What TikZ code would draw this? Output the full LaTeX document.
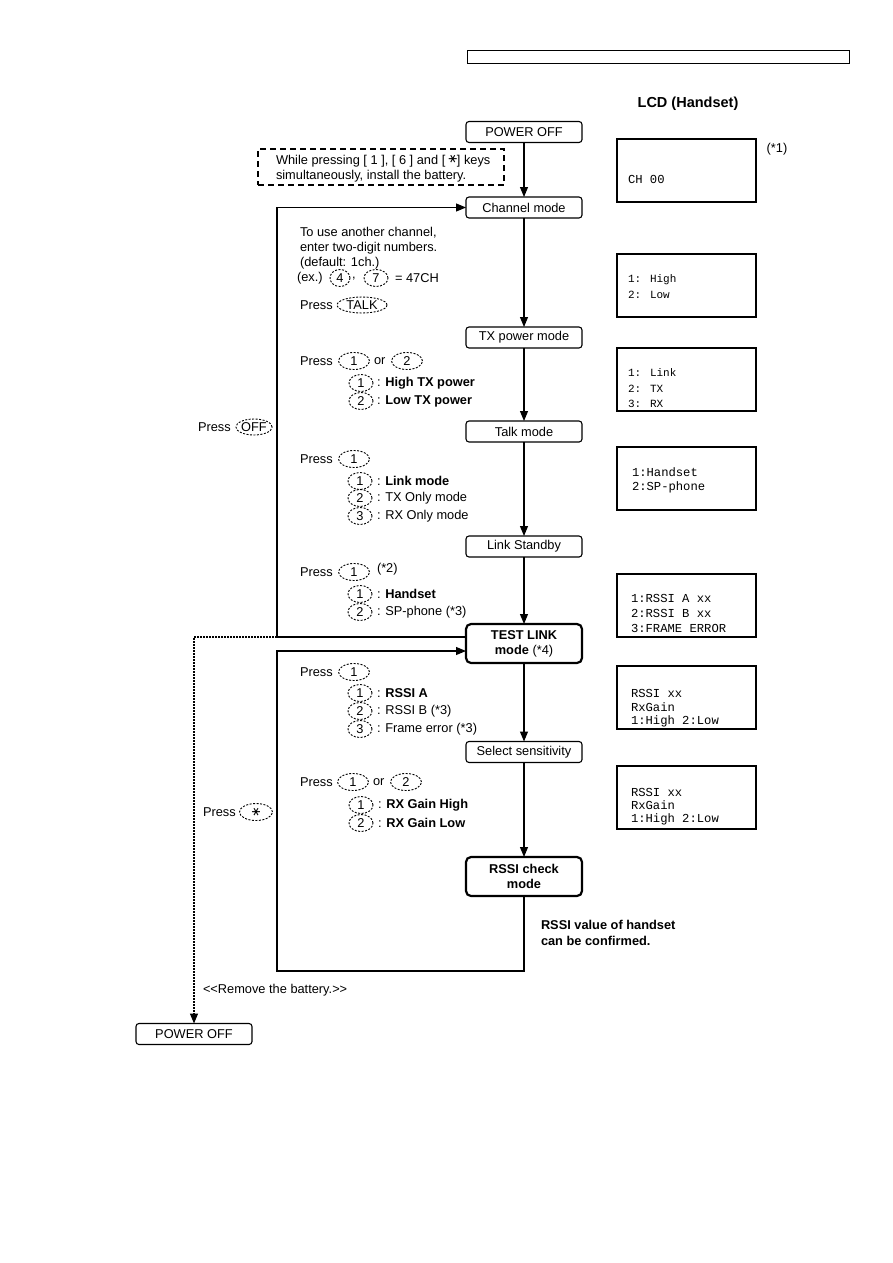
\documentclass[tikz,border=0pt]{standalone}
\usepackage{fontspec}
\usepackage{graphicx}
\setmainfont{Liberation Sans}
\newfontfamily\lcdmono{Liberation Mono}
\newfontfamily\symfont{DejaVu Sans}
\usetikzlibrary{arrows.meta,shapes.geometric,calc}
\newcommand\starsym{\raisebox{0.1em}{\rotatebox[origin=c]{90}{\symfont ∗}}}
\begin{document}
\begin{tikzpicture}[x=1pt,y=-1pt,
  font=\fontsize{12.8}{15}\selectfont,
  every node/.style={inner sep=0pt, outer sep=0pt},
  flowbox/.style={draw, rounded corners=3pt, line width=1.1pt, minimum width=116pt, minimum height=21pt, align=center},
  boldbox/.style={flowbox, line width=2.2pt, rounded corners=5pt, minimum height=39pt, font=\fontsize{12.8}{15}\selectfont\bfseries},
  keyk/.style={draw, ellipse, dash pattern=on 2pt off 1.5pt, line width=0.9pt, minimum height=17pt, minimum width=31pt},
  subkey/.style={keyk, minimum width=24pt},
  lcdbox/.style={draw, line width=1.2pt, minimum width=139pt, minimum height=63pt, anchor=north west},
  lcdt/.style={anchor=west, font=\fontsize{12.2}{14}\selectfont\lcdmono},
  lcds/.style={anchor=west, font=\fontsize{11}{14}\selectfont\lcdmono},
  arr/.style={line width=1.1pt, -{Triangle[length=10pt,width=8pt]}},
  txt/.style={anchor=west}]
\useasboundingbox (0,0) rectangle (893,1263);

% header bar
\node[draw, line width=1pt, minimum width=382pt, minimum height=13pt, anchor=north west] (hdr) at (467,51) {};
\node[font=\fontsize{14.5}{17}\selectfont\bfseries] (lcdtitle) at (688,104) {LCD (Handset)};

% flow boxes
\node[flowbox] (po1) at (524,132) {POWER OFF};
\node[draw, dash pattern=on 6pt off 4pt, line width=1.4pt, minimum width=246pt, minimum height=36pt, anchor=north west] (note) at (258,149) {};
\node[txt, align=left] (notetxt) at (276,167.5) {While pressing [ 1 ], [ 6 ] and [ \starsym] keys\\simultaneously, install the battery.};
\node[flowbox] (cm) at (524,207.5) {Channel mode};
\node[flowbox] (tx) at (524,337.5) {TX power mode};
\node[flowbox] (talk) at (524,431.5) {Talk mode};
\node[flowbox] (ls) at (524,546.5) {Link Standby};
\node[boldbox] (tl) at (524,643.5) {TEST LINK\\mode \textmd{(*4)}};
\node[flowbox] (ss) at (524,752) {Select sensitivity};
\node[boldbox] (rc) at (524,876.5) {RSSI check\\mode};
\node[flowbox] (po2) at (194,1034) {POWER OFF};

% channel mode texts
\node[txt] (c1) at (300,233) {To use another channel,};
\node[txt] (c2) at (300,248) {enter two-digit numbers.};
\node[txt] (c3) at (300,263) {(default: 1ch.)};
\node[txt] (c4) at (297,278) {(ex.)};
\node[keyk, minimum width=20pt] (k4) at (340,278) {4};
\node[txt] (c5) at (352,279) {,};
\node[keyk, minimum width=24pt] (k7) at (376,278) {7};
\node[txt] (c6) at (395,278) {= 47CH};
\node[txt] (c7) at (300,305) {Press};
\node[keyk, minimum width=50pt, minimum height=16pt] (ktalk) at (362,305) {TALK};

% TX power
\node[txt] (t1) at (300,361) {Press};
\node[keyk] (t1a) at (354,361) {1};
\node[txt] (t1b) at (374,361) {or};
\node[keyk] (t1c) at (407,361) {2};
\node[subkey] (t2k) at (361,383) {1};
\node[txt] (t2) at (377,383) {: \textbf{High TX power}};
\node[subkey] (t3k) at (361,401) {2};
\node[txt] (t3) at (377,401) {: \textbf{Low TX power}};

% press OFF
\node[txt] (off1) at (198,427) {Press};
\node[keyk, minimum width=33pt, minimum height=16pt] (koff) at (254,427) {OFF};

% talk mode
\node[txt] (l1) at (300,459) {Press};
\node[keyk] (l1k) at (354,459) {1};
\node[subkey] (l2k) at (360,481) {1};
\node[txt] (l2) at (377,481) {: \textbf{Link mode}};
\node[subkey] (l3k) at (360,498) {2};
\node[txt] (l3) at (377,498) {: TX Only mode};
\node[subkey] (l4k) at (360,516) {3};
\node[txt] (l4) at (377,516) {: RX Only mode};

% link standby
\node[txt] (h1) at (300,572) {Press};
\node[keyk] (h1k) at (354,572) {1};
\node[txt] (h1n) at (377,569) {(*2)};
\node[subkey] (h2k) at (360,594) {1};
\node[txt] (h2) at (377,594) {: \textbf{Handset}};
\node[subkey] (h3k) at (360,612) {2};
\node[txt] (h3) at (377,612) {: SP-phone (*3)};

% test link
\node[txt] (r1) at (300,672) {Press};
\node[keyk] (r1k) at (354,672) {1};
\node[subkey] (r2k) at (360,693) {1};
\node[txt] (r2) at (377,693) {: \textbf{RSSI A}};
\node[subkey] (r3k) at (360,711) {2};
\node[txt] (r3) at (377,711) {: RSSI B (*3)};
\node[subkey] (r4k) at (360,729) {3};
\node[txt] (r4) at (377,729) {: Frame error (*3)};

% select sensitivity
\node[txt] (g1) at (300,782) {Press};
\node[keyk] (g1a) at (353,782) {1};
\node[txt] (g1b) at (373,782) {or};
\node[keyk] (g1c) at (406,782) {2};
\node[subkey] (g2k) at (361,805) {1};
\node[txt] (g2) at (378,805) {: \textbf{RX Gain High}};
\node[subkey] (g3k) at (361,823) {2};
\node[txt] (g3) at (378,823) {: \textbf{RX Gain Low}};

% press star
\node[txt] (s1) at (203,812) {Press};
\node[keyk, minimum width=33pt] (sk) at (256,812) {\starsym};

\node[txt, align=left, font=\fontsize{12.8}{16}\selectfont\bfseries] (rv) at (541,933) {RSSI value of handset\\can be confirmed.};
\node[txt] (rm) at (203,990) {<\kern0pt<Remove the battery.>\kern0pt>};

% LCD boxes
\node[lcdbox] (d1) at (617,139) {};
\node[lcdt] (d1a) at (628,179) {CH 00};
\node (d1n) at (777,149) {(*1)};
\node[lcdbox] (d2) at (617,254) {};
\node[lcds] (d2a) at (628,280) {1: High};
\node[lcds] (d2b) at (628,295) {2: Low};
\node[lcdbox] (d3) at (617,348) {};
\node[lcds] (d3a) at (628,373) {1: Link};
\node[lcds] (d3b) at (628,389) {2: TX};
\node[lcds] (d3c) at (628,404) {3: RX};
\node[lcdbox] (d4) at (617,447) {};
\node[lcdt] (d4a) at (632,472) {1:Handset};
\node[lcdt] (d4b) at (632,487) {2:SP-phone};
\node[lcdbox] (d5) at (617,574) {};
\node[lcdt] (d5a) at (631,598) {1:RSSI A xx};
\node[lcdt] (d5b) at (631,613) {2:RSSI B xx};
\node[lcdt] (d5c) at (631,628) {3:FRAME ERROR};
\node[lcdbox] (d6) at (617,666) {};
\node[lcdt] (d6a) at (631,693) {RSSI xx};
\node[lcdt] (d6b) at (631,707) {RxGain};
\node[lcdt] (d6c) at (631,721) {1:High 2:Low};
\node[lcdbox] (d7) at (617,766) {};
\node[lcdt] (d7a) at (631,792) {RSSI xx};
\node[lcdt] (d7b) at (631,805) {RxGain};
\node[lcdt] (d7c) at (631,819) {1:High 2:Low};

% connectors
\draw[arr] (po1) -- (cm);
\draw[arr] (cm) -- (tx);
\draw[arr] (tx) -- (talk);
\draw[arr] (talk) -- (ls);
\draw[arr] (ls) -- (tl);
\draw[arr] (tl) -- (ss);
\draw[arr] (ss) -- (rc);

\coordinate (Loff) at (277,637);
\coordinate (Lstar) at (277,651);
\coordinate (Lbot) at (277,971);
\coordinate (Ldot) at (194,637);
\draw[arr] (tl.west |- Loff) -- (Loff) |- (cm.west);
\draw[arr] (rc.south) -- (rc.south |- Lbot) -- (Lbot) -- (Lstar) -- (tl.west |- Lstar);
\draw[arr, dash pattern=on 1.6pt off 1.4pt, line width=1.3pt] (Loff) -- (Ldot) -- (po2.north);
\end{tikzpicture}
\end{document}
